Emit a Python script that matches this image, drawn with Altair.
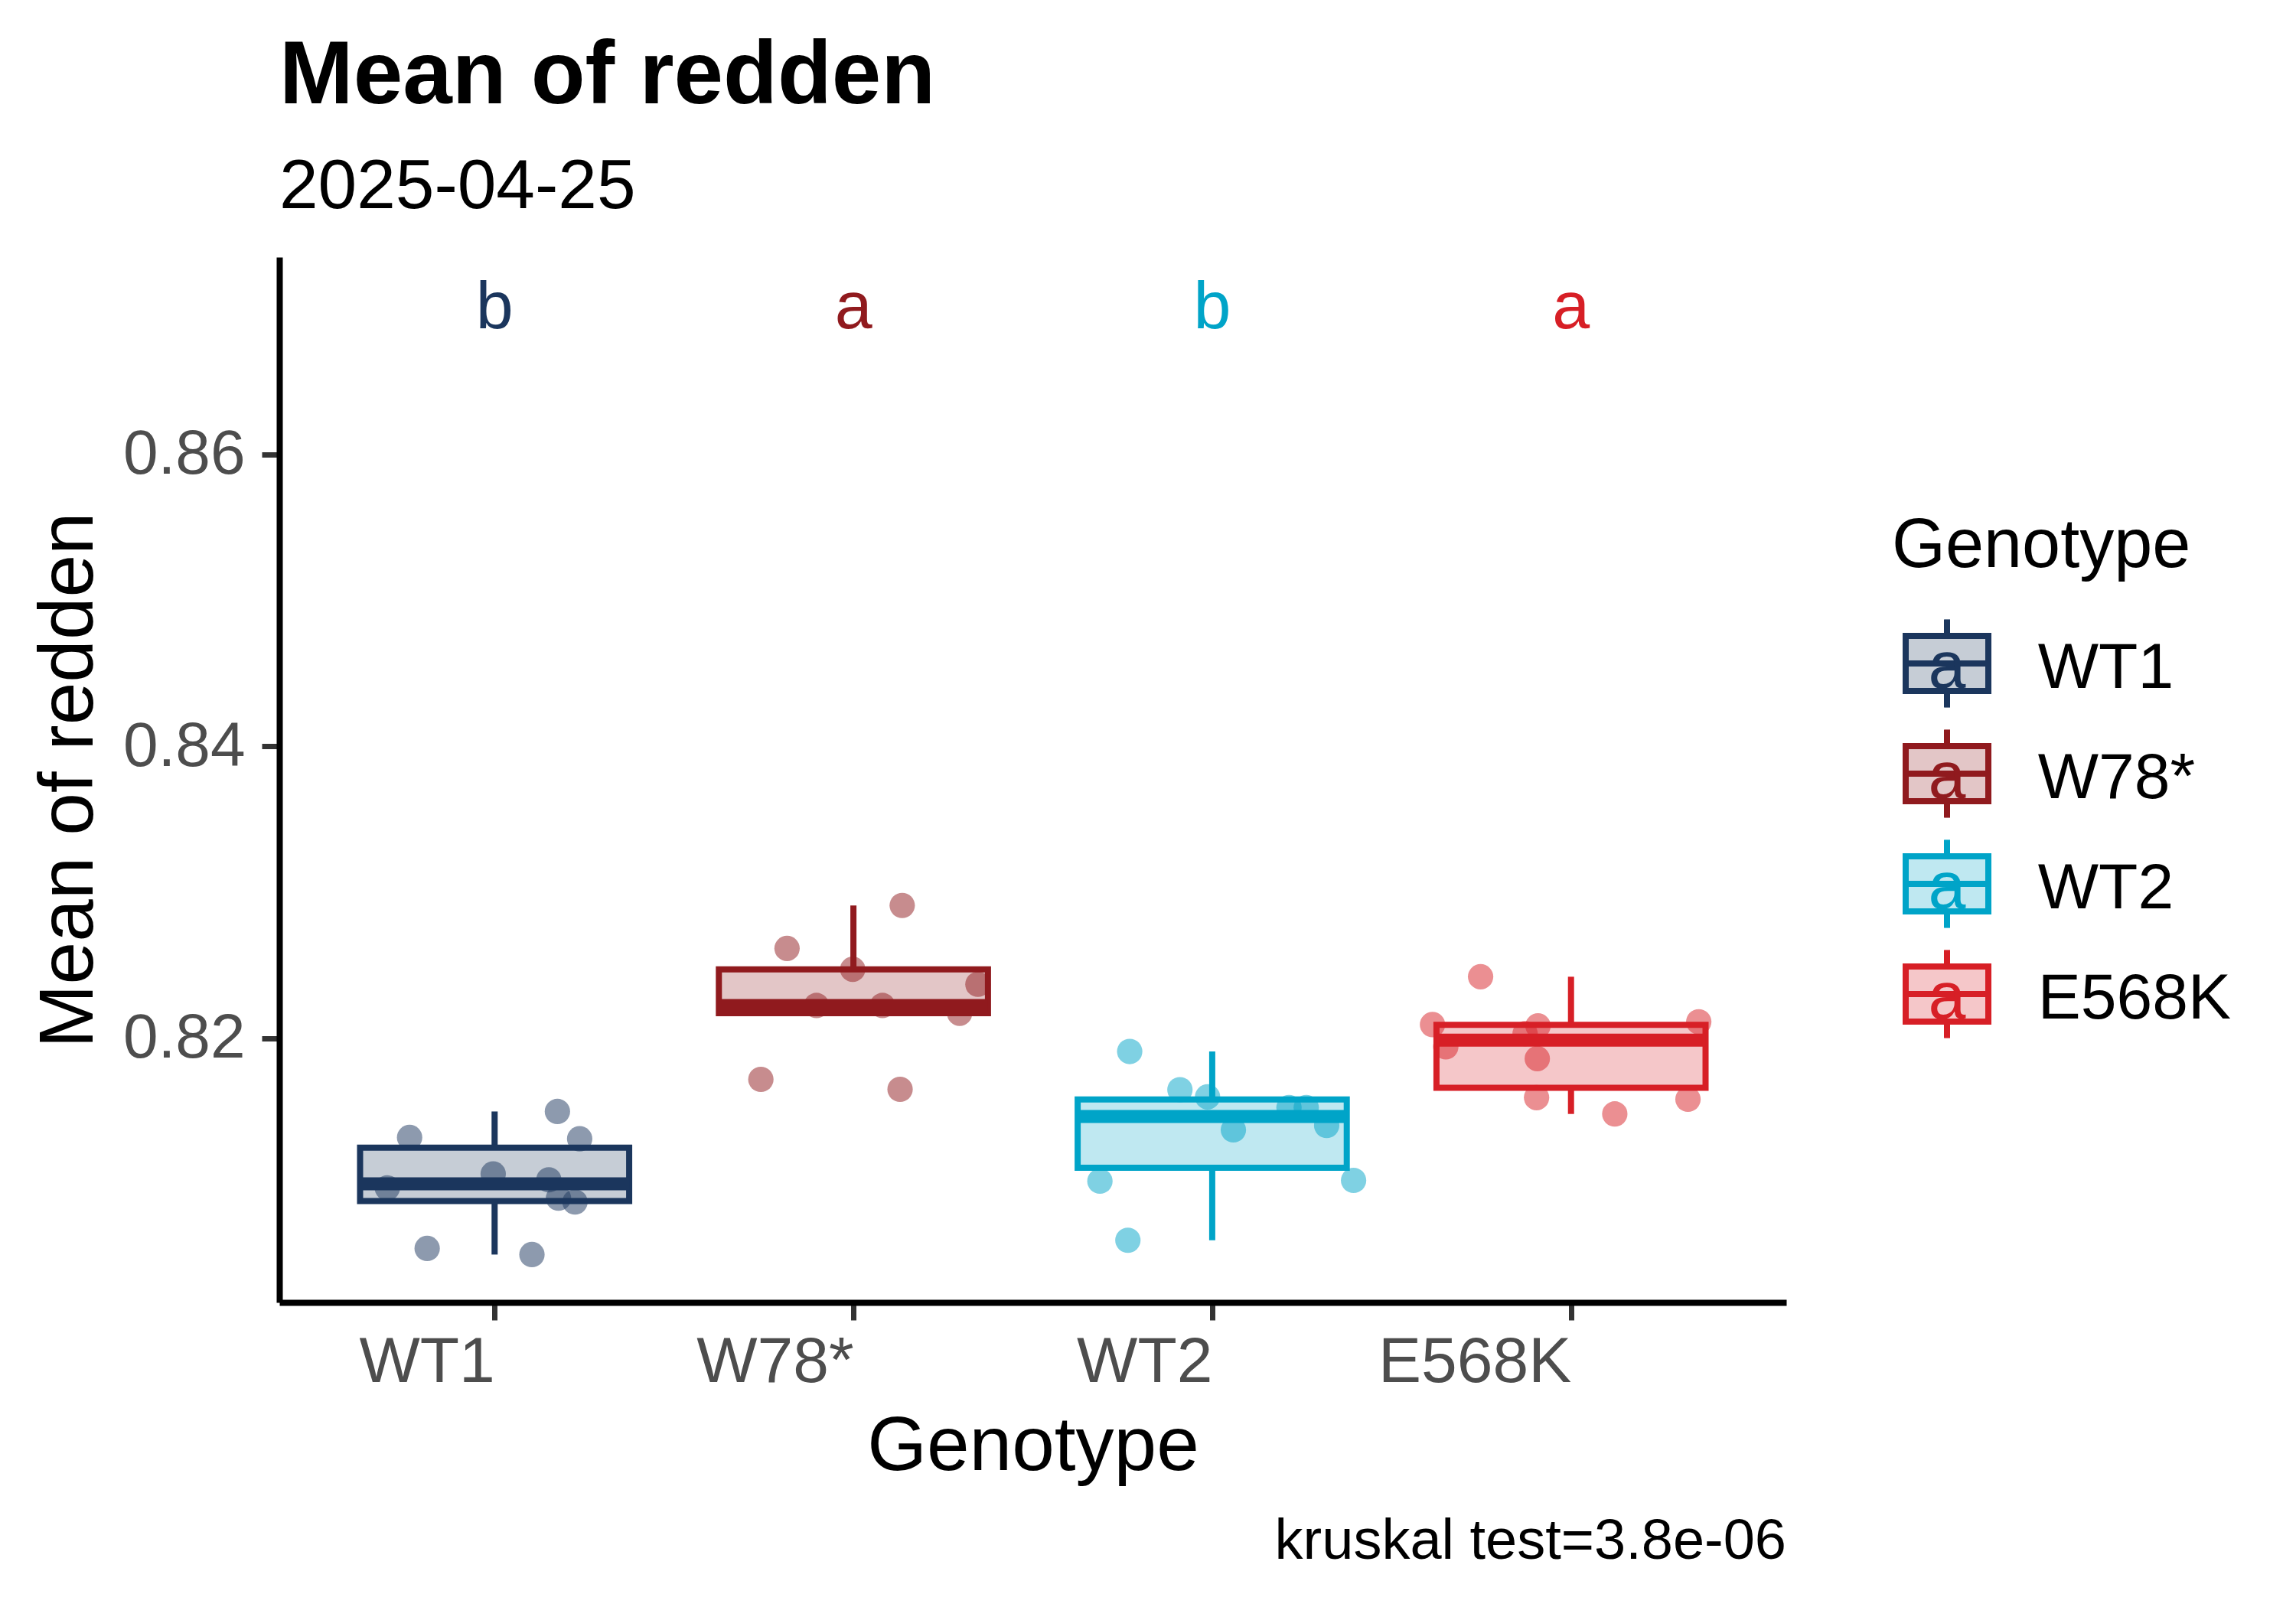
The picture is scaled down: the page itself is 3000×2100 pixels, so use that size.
import altair as alt
import numpy as np
import pandas as pd

# ---------------- data ----------------
genotypes = ["WT1", "W78*", "WT2", "E568K"]
colors = ["#1B365D", "#901A1E", "#00A4C8", "#D71F26"]
letters = ["b", "a", "b", "a"]
letter_y = 0.87

wt1_values = [0.81320, 0.80974, 0.80560, 0.81070, 0.81498, 0.81311, 0.81030, 0.80904, 0.80878, 0.80518]
wt1_jitter = [-0.237, -0.299, -0.188, -0.004, 0.175, 0.237, 0.151, 0.178, 0.224, 0.104]
w78_values = [0.82909, 0.82615, 0.82472, 0.82369, 0.82224, 0.82224, 0.82171, 0.81718, 0.81650]
w78_jitter = [0.136, -0.185, -0.002, 0.347, -0.103, 0.081, 0.296, -0.258, 0.130]
wt2_values = [0.81909, 0.81647, 0.81598, 0.81525, 0.81525, 0.81372, 0.81402, 0.81021, 0.81026, 0.80616]
wt2_jitter = [-0.230, -0.090, -0.013, 0.214, 0.262, 0.059, 0.319, -0.313, 0.394, -0.235]
e568k_values = [0.82421, 0.82093, 0.81941, 0.82084, 0.82031, 0.81860, 0.82112, 0.81593, 0.81582, 0.81481]
e568k_jitter = [-0.252, -0.386, -0.349, -0.092, -0.128, -0.094, 0.356, -0.096, 0.326, 0.122]

y_ticks = [0.82, 0.84, 0.86]
y_domain = [0.8019, 0.8735]
x_domain = [0.4, 4.6]
caption = "kruskal test=3.8e-06"

values = [wt1_values, w78_values, wt2_values, e568k_values]
jitters = [wt1_jitter, w78_jitter, wt2_jitter, e568k_jitter]

# ---------------- tables ----------------
rows = []
for i, (g, vals, jit) in enumerate(zip(genotypes, values, jitters)):
    for v, j in zip(vals, jit):
        rows.append({"genotype": g, "x": i + 1 + j, "value": v})
pts = pd.DataFrame(rows)

stat_rows = []
for i, (g, vals) in enumerate(zip(genotypes, values)):
    a = np.array(vals)
    q1, med, q3 = np.percentile(a, [25, 50, 75])
    iqr = q3 - q1
    lo = a[a >= q1 - 1.5 * iqr].min()
    hi = a[a <= q3 + 1.5 * iqr].max()
    stat_rows.append({"genotype": g, "idx": i + 1, "left": i + 1 - 0.375, "right": i + 1 + 0.375,
                      "q1": q1, "median": med, "q3": q3, "lower": lo, "upper": hi,
                      "letter": letters[i], "ly": letter_y})
stats = pd.DataFrame(stat_rows)

# ---------------- main panel ----------------
FONT = "Liberation Sans"
xscale = alt.Scale(domain=x_domain, nice=False, zero=False)
yscale = alt.Scale(domain=y_domain, nice=False, zero=False)
label_list = "[" + ",".join("'" + g + "'" for g in genotypes) + "]"

xaxis = alt.Axis(values=[1, 2, 3, 4], labelExpr=label_list + "[datum.value - 1]", grid=False,
                 domainColor="black", domainWidth=8, tickColor="#333333", tickWidth=7, tickSize=23,
                 labelFontSize=84, labelColor="#4D4D4D", labelAlign="right", labelBaseline="top",
                 labelPadding=14, labelFlush=False, labelBound=False, labelOverlap=False,
                 labelLimit=0,
                 titleFontSize=100, titleColor="black", titleFontWeight="normal",
                 titleY=218, titleBaseline="alphabetic")
yaxis = alt.Axis(values=y_ticks, format=".2f", grid=False,
                 domainColor="black", domainWidth=8, tickColor="#333333", tickWidth=7, tickSize=23,
                 labelFontSize=82, labelColor="#4D4D4D", labelPadding=22, labelLimit=0,
                 titleFontSize=100, titleColor="black", titleFontWeight="normal",
                 titleX=-245, titleBaseline="alphabetic")

cscale = alt.Scale(domain=genotypes, range=colors)


def X(field):
    return alt.X(field, type="quantitative", scale=xscale, axis=xaxis, title="Genotype")


def Y(field):
    return alt.Y(field, type="quantitative", scale=yscale, axis=yaxis, title="Mean of redden")


col = alt.Color("genotype:N", scale=cscale, legend=None)
fil = alt.Fill("genotype:N", scale=cscale, legend=None)
stk = alt.Stroke("genotype:N", scale=cscale, legend=None)

points = alt.Chart(pts).mark_circle(size=1100, opacity=0.5).encode(x=X("x"), y=Y("value"), color=col)
wh_hi = alt.Chart(stats).mark_rule(strokeWidth=8).encode(x=X("idx"), y=Y("q3"), y2="upper", color=col)
wh_lo = alt.Chart(stats).mark_rule(strokeWidth=8).encode(x=X("idx"), y=Y("lower"), y2="q1", color=col)
box = alt.Chart(stats).mark_rect(fillOpacity=0.25, strokeWidth=8).encode(
    x=X("left"), x2="right", y=Y("q1"), y2="q3", fill=fil, stroke=stk)
med = alt.Chart(stats).mark_rule(strokeWidth=17).encode(x=X("left"), x2="right", y=Y("median"), color=col)
txt = alt.Chart(stats).mark_text(fontSize=88, baseline="middle").encode(
    x=X("idx"), y=Y("ly"), text="letter:N", color=col)

main = alt.layer(points, wh_hi, wh_lo, box, med, txt).properties(
    width=1969, height=1366,
    title=alt.Title(caption, orient="bottom", anchor="end", frame="group", fontSize=74,
                    fontWeight="normal", color="black", offset=39))

# ---------------- legend panel ----------------
leg = pd.DataFrame({"genotype": genotypes, "i": list(range(len(genotypes)))})
leg["l"] = 0.05
leg["r"] = 0.95
leg["m"] = 0.5
leg["b0"] = leg["i"] - 0.25
leg["b1"] = leg["i"] + 0.25
leg["w0"] = leg["i"] - 0.4
leg["w1"] = leg["i"] + 0.4
leg["ty"] = leg["i"] + 0.222
leg["tx"] = 1.49
leg["a"] = "a"

lx = alt.Scale(domain=[0, 4], nice=False, zero=False)
ly = alt.Scale(domain=[-3.6875, 5.7986], nice=False, zero=False, reverse=True)


def LX(field):
    return alt.X(field, type="quantitative", scale=lx, axis=None)


def LY(field):
    return alt.Y(field, type="quantitative", scale=ly, axis=None)


lw1 = alt.Chart(leg).mark_rule(strokeWidth=8).encode(x=LX("m"), y=LY("w0"), y2="b0", color=col)
lw2 = alt.Chart(leg).mark_rule(strokeWidth=8).encode(x=LX("m"), y=LY("b1"), y2="w1", color=col)
lbox = alt.Chart(leg).mark_rect(fillOpacity=0.25, strokeWidth=8).encode(
    x=LX("l"), x2="r", y=LY("b0"), y2="b1", fill=fil, stroke=stk)
lmed = alt.Chart(leg).mark_rule(strokeWidth=8).encode(x=LX("l"), x2="r", y=LY("i"), color=col)
la = alt.Chart(leg).mark_text(fontSize=88, baseline="alphabetic").encode(
    x=LX("m"), y=LY("ty"), text="a:N", color=col)
llab = alt.Chart(leg).mark_text(fontSize=84, baseline="alphabetic", align="left", color="black").encode(
    x=LX("tx"), y=LY("ty"), text="genotype:N")
ltitle = alt.Chart(pd.DataFrame({"t": ["Genotype"], "x": [-0.1], "y": [-0.875]})).mark_text(
    fontSize=90, baseline="alphabetic", align="left", color="black").encode(
    x=LX("x"), y=LY("y"), text="t:N")

legend = alt.layer(lw1, lw2, lbox, lmed, la, llab, ltitle).properties(width=480, height=1366)

chart = alt.hconcat(main, legend, spacing=150, bounds="flush").properties(
    title=alt.Title("Mean of redden", subtitle="2025-04-25", anchor="start", frame="group",
                    fontSize=116, fontWeight="bold", color="black",
                    subtitleFontSize=91, subtitleColor="black", subtitlePadding=41, offset=45),
    padding={"left": 32, "top": 34, "right": 5, "bottom": 5},
).configure(font=FONT).configure_view(stroke=None)

chart.save("out.html", embed_options={"renderer": "svg", "actions": False})
